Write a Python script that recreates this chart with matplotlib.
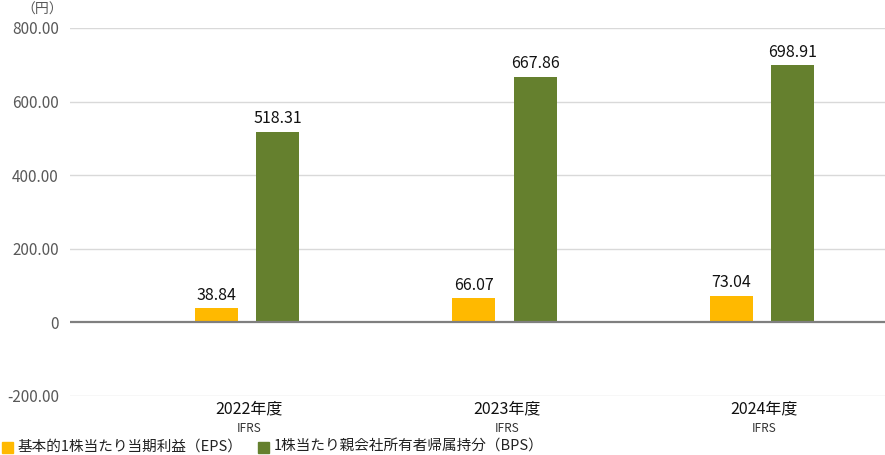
import matplotlib
matplotlib.use("Agg")
import matplotlib.pyplot as plt
import numpy as np
from matplotlib.patches import Rectangle

plt.rcParams['font.family'] = ['Noto Sans CJK JP', 'DejaVu Sans']

categories = ["2022年度", "2023年度", "2024年度"]
sub_labels = ["IFRS", "IFRS", "IFRS"]
eps = [38.84, 66.07, 73.04]
bps = [518.31, 667.86, 698.91]
series_names = ["基本的1株当たり当期利益（EPS）", "1株当たり親会社所有者帰属持分（BPS）"]
yticks = [-200, 0, 200, 400, 600, 800]
ytick_labels = ["-200.00", "0", "200.00", "400.00", "600.00", "800.00"]

c_eps = "#FFB900"
c_bps = "#65802E"

W, H = 885, 455
fig = plt.figure(figsize=(W/100, H/100), dpi=100)
ax = fig.add_axes([70/W, (H-396)/H, (885-70)/W, (396-28)/H])

x = np.arange(len(categories))
bw = 0.167
off = 0.119
ax.bar(x - off, eps, width=bw, color=c_eps, zorder=3)
ax.bar(x + off, bps, width=bw, color=c_bps, zorder=3)

for xi, v in zip(x - off, eps):
    ax.annotate(f"{v:.2f}", (xi, v), xytext=(0, 3), textcoords="offset points",
                ha="center", va="bottom", fontsize=11.5, color="#111111", zorder=4)
for xi, v in zip(x + off, bps):
    ax.annotate(f"{v:.2f}", (xi, v), xytext=(0, 3), textcoords="offset points",
                ha="center", va="bottom", fontsize=11.5, color="#111111", zorder=4)

ax.set_xlim(-0.687, 2.478)
ax.set_ylim(-200, 800)
ax.set_yticks(yticks)
ax.set_yticklabels(ytick_labels, fontsize=11, color="#595959")
ax.tick_params(axis="y", length=0, pad=8)
ax.set_xticks([])
for s in ax.spines.values():
    s.set_visible(False)
for t in yticks:
    if t == 0:
        ax.axhline(t, color="#7f7f7f", lw=1.6, zorder=4)
    else:
        ax.axhline(t, color="#d9d9d9", lw=1.0, zorder=1)

tr = ax.get_xaxis_transform()
for xi, cat, sub in zip(x, categories, sub_labels):
    ax.annotate(cat, (xi + 0.01, 0), xycoords=tr, xytext=(0, -3), textcoords="offset points",
                ha="center", va="top", fontsize=11.5, color="#111111")
    ax.annotate(sub, (xi + 0.01, 0), xycoords=tr, xytext=(0, -19), textcoords="offset points",
                ha="center", va="top", fontsize=8.5, color="#333333")

fig.text(63/W, 1 - 10/H, "（円）", ha="right", va="center", fontsize=10, color="#595959")

ly = 1 - 447/H
for px, col, name in [(2, c_eps, series_names[0]), (258, c_bps, series_names[1])]:
    fig.patches.append(Rectangle((px/W, ly - 5.5/H), 11/W, 11/H, transform=fig.transFigure,
                                 color=col, figure=fig))
    fig.text((px + 16)/W, ly, name, ha="left", va="center", fontsize=10.5, color="#222222")

fig.savefig("out.png", dpi=100)
